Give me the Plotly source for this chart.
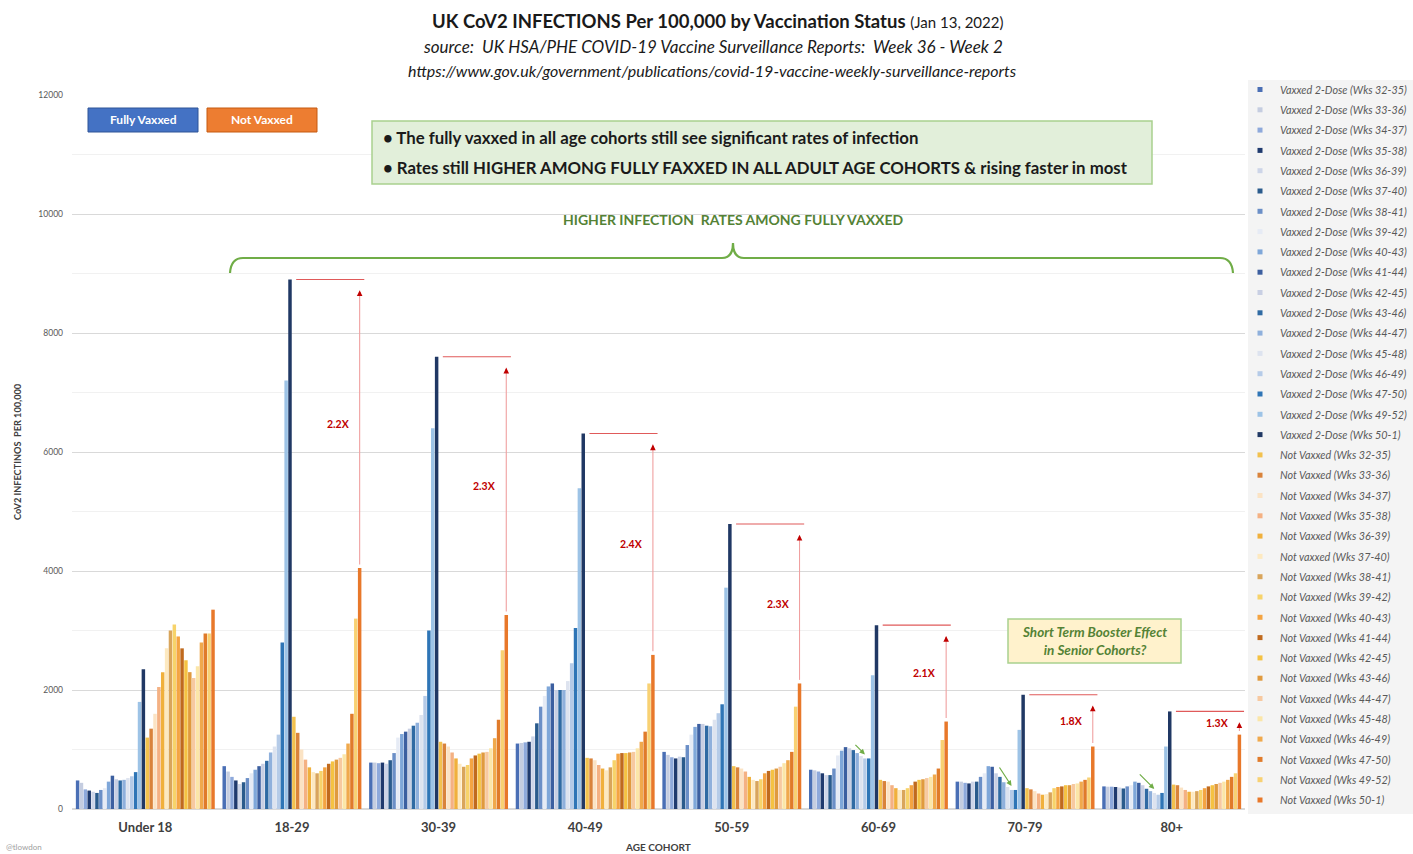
import plotly.graph_objects as go

# ---------------- DATA ----------------
age_groups = ["Under 18", "18-29", "30-39", "40-49", "50-59", "60-69", "70-79", "80+"]
week_windows = ["32-35", "33-36", "34-37", "35-38", "36-39", "37-40", "38-41", "39-42", "40-43",
                "41-44", "42-45", "43-46", "44-47", "45-48", "46-49", "47-50", "49-52", "50-1"]

# Fully vaxxed (2-dose) rates per 100,000, one value per week window
vax_u18 = [480, 440, 330, 310, 290, 270, 320, 350, 460, 560, 500, 480, 490, 520, 550, 620, 1800, 2350]
vax_1829 = [720, 630, 540, 480, 420, 450, 520, 600, 660, 720, 760, 810, 950, 1050, 1250, 2800, 7200, 8900]
vax_3039 = [780, 780, 770, 780, 760, 820, 940, 1200, 1260, 1300, 1350, 1400, 1450, 1580, 1900, 3000, 6400, 7600]
vax_4049 = [1100, 1110, 1120, 1130, 1220, 1440, 1720, 1900, 2060, 2110, 2000, 2000, 2000, 2150, 2450, 3040, 5390, 6310]
vax_5059 = [960, 910, 870, 850, 880, 870, 1075, 1250, 1380, 1430, 1430, 1400, 1390, 1500, 1610, 1760, 3720, 4790]
vax_6069 = [660, 650, 630, 600, 570, 570, 680, 900, 980, 1040, 1020, 990, 940, 890, 850, 850, 2250, 3090]
vax_7079 = [460, 460, 440, 430, 460, 460, 540, 600, 720, 710, 600, 540, 450, 370, 320, 320, 1330, 1920]
vax_80 = [380, 375, 375, 370, 360, 345, 380, 400, 460, 440, 400, 340, 300, 270, 240, 270, 1050, 1640]

# Not vaxxed rates per 100,000
nv_u18 = [1200, 1350, 1600, 2050, 2300, 2700, 3000, 3100, 2900, 2700, 2500, 2300, 2200, 2400, 2800, 2950, 2950, 3350]
nv_1829 = [1550, 1280, 1000, 830, 700, 620, 600, 640, 700, 760, 800, 830, 860, 920, 1100, 1600, 3200, 4050]
nv_3039 = [1130, 1100, 1050, 950, 850, 760, 710, 740, 850, 900, 930, 950, 960, 1020, 1190, 1500, 2670, 3260]
nv_4049 = [860, 850, 820, 740, 680, 650, 700, 820, 930, 940, 940, 950, 960, 1020, 1130, 1300, 2110, 2590]
nv_5059 = [720, 700, 680, 630, 540, 490, 470, 500, 600, 640, 660, 680, 710, 770, 820, 960, 1720, 2110]
nv_6069 = [490, 470, 460, 400, 350, 320, 320, 350, 400, 460, 490, 500, 520, 540, 580, 680, 1160, 1470]
nv_7079 = [350, 330, 300, 260, 240, 250, 280, 350, 370, 380, 400, 400, 420, 430, 460, 490, 530, 1050]
nv_80 = [410, 400, 360, 320, 290, 290, 300, 320, 350, 380, 400, 420, 440, 460, 490, 540, 600, 1250]

vaxxed = [vax_u18, vax_1829, vax_3039, vax_4049, vax_5059, vax_6069, vax_7079, vax_80]
not_vaxxed = [nv_u18, nv_1829, nv_3039, nv_4049, nv_5059, nv_6069, nv_7079, nv_80]

vax_names = [f"Vaxxed 2-Dose (Wks {w})" for w in week_windows]
nv_names = [("Not vaxxed" if w == "37-40" else "Not Vaxxed") + f" (Wks {w})" for w in week_windows]

# ---------------- STYLE ----------------
blue_colors = ["#4a6fb5", "#c5cde0", "#8ea9db", "#1f3a6e", "#cdd5e8", "#2a5b8c", "#6b8fc7", "#e6ebf5",
               "#7fa7d9", "#3c5fa0", "#c8cfe3", "#2f6aa3", "#8fb0dc", "#dde3ef", "#b5cbe8", "#2e75b6",
               "#9dc3e6", "#203864"]
orange_colors = ["#f2c14e", "#d9833b", "#fbe3c4", "#f4b183", "#f0b03c", "#fde9c0", "#d9a55b", "#f7d36a",
                 "#f4a442", "#c06a1e", "#f5c242", "#e09a3e", "#f7c9a0", "#fbe6a8", "#f0a94c", "#e07b2a",
                 "#f8d173", "#e8782a"]

FONT = "Lato"
W, H = 1413, 854
L, R, T, B = 72, 168, 95, 45
PW, PH = W - L - R, H - T - B
YMAX = 12000
BARGAP = 0.05
NSER = 36


def pxx(px):
    return (px - L) / PW


def pxy(py):
    return (H - B - py) / PH


def bar_center(g, k):
    slot = (1 - BARGAP) / NSER
    return g - (1 - BARGAP) / 2 + (k + 0.5) * slot


units_per_px = YMAX / PH

fig = go.Figure()

n = len(week_windows)
for j in range(n):
    fig.add_trace(go.Bar(x=age_groups, y=[grp[j] for grp in vaxxed], name=vax_names[j],
                         marker=dict(color=blue_colors[j], line=dict(width=0)), showlegend=False))
for j in range(n):
    fig.add_trace(go.Bar(x=age_groups, y=[grp[j] for grp in not_vaxxed], name=nv_names[j],
                         marker=dict(color=orange_colors[j], line=dict(width=0)), showlegend=False))

# legend entries (small square markers)
for name, c in list(zip(vax_names, blue_colors)) + list(zip(nv_names, orange_colors)):
    fig.add_trace(go.Scatter(x=[None], y=[None], mode="markers", name=name, legendgroup=name,
                             marker=dict(symbol="square", size=5, color=c), hoverinfo="skip"))

shapes = []
annotations = []


def note(px, py, text, size, color="#1a1a1a", xanchor="center", **kw):
    annotations.append(dict(xref="paper", yref="paper", x=pxx(px), y=pxy(py), xanchor=xanchor,
                            yanchor="middle", showarrow=False, text=text,
                            font=dict(size=size, color=color, family=FONT), **kw))


# legend panel background
shapes.append(dict(type="rect", xref="paper", yref="paper", x0=pxx(1248), x1=pxx(1413), y0=pxy(814), y1=pxy(80),
                   fillcolor="#f4f4f4", line=dict(width=0), layer="below"))

# titles
note(717, 21, "<b>UK CoV2 INFECTIONS Per 100,000 by Vaccination Status</b> "
              "<span style='font-size:15px'>(Jan 13, 2022)</span>", 18.5)
note(713, 46, "<i>source:  UK HSA/PHE COVID-19 Vaccine Surveillance Reports:  Week 36 - Week 2</i>", 17)
note(712, 71, "<i>https://www.gov.uk/government/publications/covid-19-vaccine-weekly-surveillance-reports</i>", 16)

# Fully vaxxed / Not vaxxed key boxes
for x0, x1, fill, edge, label in [(88, 198, "#4472c4", "#2f5597", "Fully Vaxxed"),
                                  (207, 317, "#ed7d31", "#c55a11", "Not Vaxxed")]:
    shapes.append(dict(type="rect", xref="paper", yref="paper", x0=pxx(x0), x1=pxx(x1), y0=pxy(132), y1=pxy(108),
                       fillcolor=fill, line=dict(color=edge, width=1)))
    note((x0 + x1) / 2, 120, f"<b>{label}</b>", 12, color="white")

# green message box
shapes.append(dict(type="rect", xref="paper", yref="paper", x0=pxx(372), x1=pxx(1152), y0=pxy(184), y1=pxy(121),
                   fillcolor="#e2efda", line=dict(color="#a9d18e", width=1.5)))
note(381, 137, "<b>• The fully vaxxed in all age cohorts still see significant rates of infection</b>",
     16.8, xanchor="left")
note(381, 167, "<b>• Rates still HIGHER AMONG FULLY FAXXED IN ALL ADULT AGE COHORTS &amp; rising faster in most</b>",
     16.8, xanchor="left")

# Higher infection rates text & brace
note(733, 219, "<b>HIGHER INFECTION  RATES AMONG FULLY VAXXED</b>", 14, color="#548235")
bx0, bx1, btip, by, bend, btop = 230, 1233, 733, 258, 273, 243


def P(px, py):
    return f"{pxx(px):.5f},{pxy(py):.5f}"


brace = (f"M{P(bx0, bend)} Q{P(bx0 + 1, by)} {P(bx0 + 13, by)} L{P(btip - 11, by)} "
         f"Q{P(btip, by)} {P(btip, btop)} Q{P(btip, by)} {P(btip + 11, by)} "
         f"L{P(bx1 - 13, by)} Q{P(bx1 - 1, by)} {P(bx1, bend)}")
shapes.append(dict(type="path", xref="paper", yref="paper", path=brace, line=dict(color="#70ad47", width=2.2)))

# ratio markers per adult age group (derived from the data)
slot = (1 - BARGAP) / NSER
for g in range(1, len(age_groups)):
    bmax = vaxxed[g][-1]
    olast = not_vaxxed[g][-1]
    xb = bar_center(g, n - 1)
    xo = bar_center(g, 2 * n - 1)
    shapes.append(dict(type="line", xref="x", yref="y", x0=xb + 1.6 * slot, x1=xo + 1.2 * slot, y0=bmax, y1=bmax,
                       line=dict(color="#e05a5a", width=1.1)))
    ytop = bmax - 11 * units_per_px
    shapes.append(dict(type="line", xref="x", yref="y", x0=xo, x1=xo, y0=olast + 60, y1=ytop,
                       line=dict(color="#f0a0a0", width=1.1)))
    annotations.append(dict(xref="x", yref="y", x=xo, y=ytop, ax=0, ay=6, text="", showarrow=True,
                            arrowhead=2, arrowsize=0.8, arrowwidth=1.4, arrowcolor="#c00000"))
    annotations.append(dict(xref="x", yref="y", x=xo, y=(bmax + olast) / 2, xanchor="right", yanchor="middle",
                            xshift=-8, showarrow=False, text=f"<b>{bmax / olast:.1f}X</b>",
                            font=dict(size=10.5, color="#c00000", family=FONT)))

# green arrows pointing at the booster dips
for g, k, ax, ay in [(5, 14, -11, -11), (6, 14, -13, -20), (7, 13, -16, -16)]:
    annotations.append(dict(xref="x", yref="y", x=bar_center(g, k), y=vaxxed[g][k], yshift=4, ax=ax, ay=ay,
                            text="", showarrow=True, arrowhead=2, arrowsize=0.9, arrowwidth=1.2,
                            arrowcolor="#70ad47"))

# booster box
shapes.append(dict(type="rect", xref="paper", yref="paper", x0=pxx(1008), x1=pxx(1181), y0=pxy(663), y1=pxy(619),
                   fillcolor="#fff2cc", line=dict(color="#a9d18e", width=1.5)))
note(1094, 641, "<b><i>Short Term Booster Effect<br>in Senior Cohorts?</i></b>", 13.5, color="#548235")

# axis titles & credit
note(17, 452, "<b>CoV2 INFECTINOS  PER 100,000</b>", 9.2, color="#404040", textangle=-90)
note(658, 847, "<b>AGE COHORT</b>", 10, color="#404040")
note(4, 847, "@tlowdon", 8, color="#a0a0a0", xanchor="left")

fig.update_layout(
    width=W, height=H,
    margin=dict(l=L, r=R, t=T, b=B, autoexpand=False),
    paper_bgcolor="white", plot_bgcolor="white",
    barmode="group", bargap=BARGAP, bargroupgap=0.1,
    font=dict(family=FONT, color="#404040"),
    showlegend=True,
    legend=dict(xref="container", yref="container", x=1240 / W, xanchor="left", y=1 - 75 / H, yanchor="top",
                bgcolor="rgba(0,0,0,0)", maxheight=800,
                font=dict(size=10.8, color="#595959", family=FONT, style="italic"),
                tracegroupgap=1.3, itemwidth=30, traceorder="grouped"),
    shapes=shapes, annotations=annotations,
    xaxis=dict(type="category", tickfont=dict(size=13, color="#404040", family=FONT), showgrid=False,
               showline=False, ticks="", tickprefix="<b>", ticksuffix="</b>", ticklabelstandoff=9),
    yaxis=dict(range=[0, YMAX], dtick=2000, tickfont=dict(size=8.5, color="#595959", family=FONT),
               showgrid=True, gridcolor="#d9d9d9", gridwidth=1, zeroline=True, zerolinecolor="#d9d9d9",
               showline=False, ticks="", tickformat="d", ticklabelstandoff=8,
               minor=dict(dtick=1000, showgrid=True, gridcolor="#f1f1f1")),
)

fig.write_html("out.html", config={"displayModeBar": False},
               post_script="document.body.style.margin='0px';")
